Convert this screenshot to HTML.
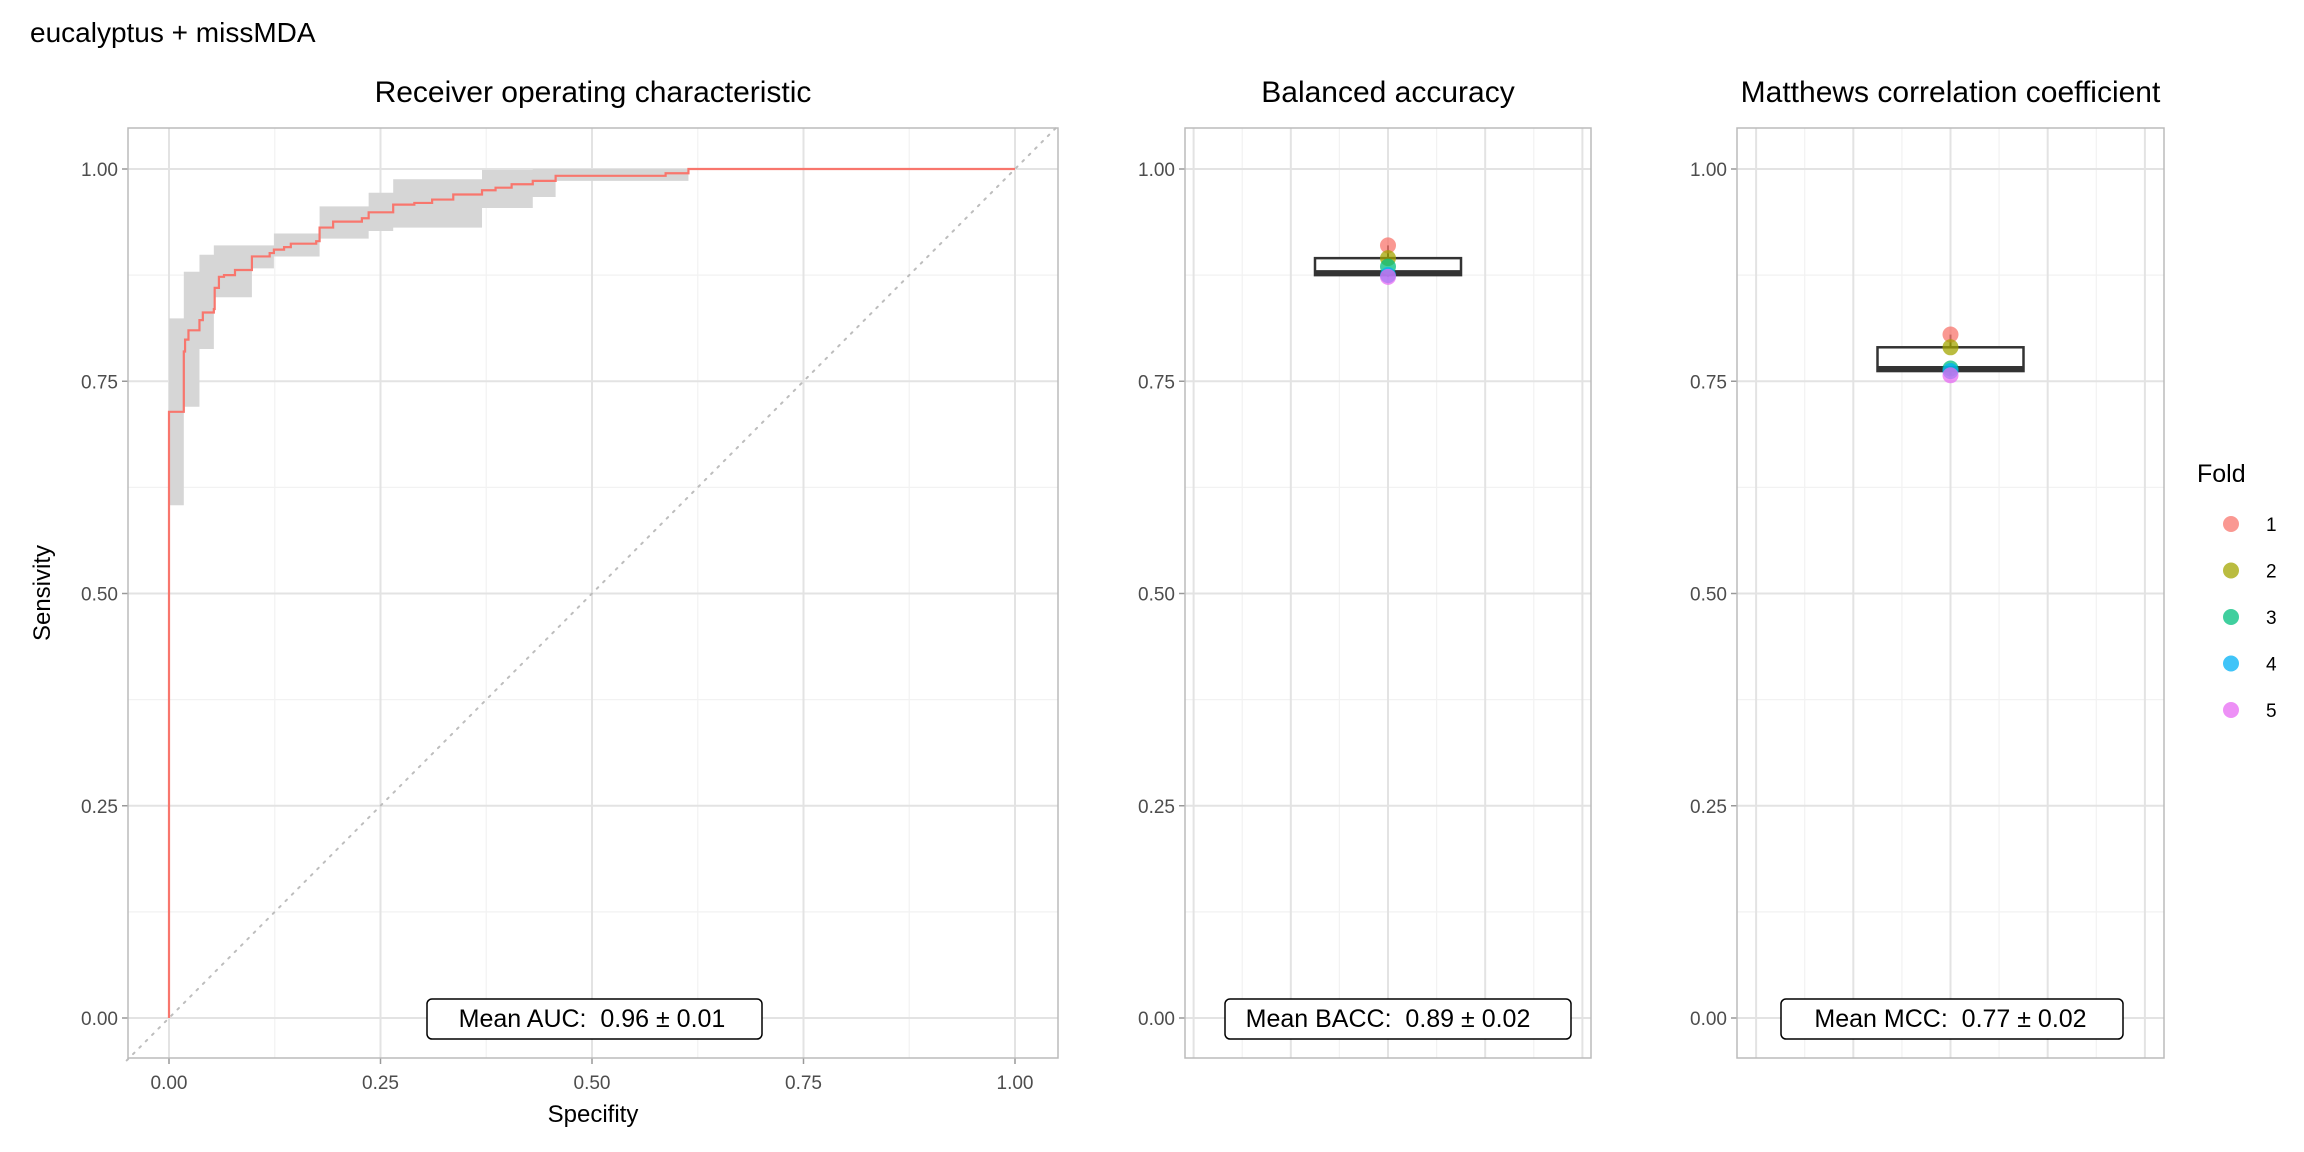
<!DOCTYPE html>
<html><head><meta charset="utf-8"><style>
html,body{margin:0;padding:0;background:#fff;}
svg{display:block;font-family:"Liberation Sans",sans-serif;}
text{white-space:pre;}
</style></head><body>
<svg id="c" width="2304" height="1152" viewBox="0 0 2304 1152" xmlns="http://www.w3.org/2000/svg">
<rect width="2304" height="1152" fill="#fff"/>
<text x="30" y="42" font-size="28" fill="#000">eucalyptus + missMDA</text>
</svg>
<script>
// ROC data
const rocX=[0,0,0.0175,0.019,0.023,0.036,0.040,0.053,0.054,0.059,0.065,0.078,0.098,0.119,0.124,0.136,0.144,0.174,0.178,0.194,0.228,0.236,0.265,0.29,0.311,0.336,0.37,0.386,0.405,0.43,0.457,0.587,0.614,1.0];
const rocY=[0,0.714,0.785,0.799,0.81,0.822,0.831,0.835,0.86,0.873,0.875,0.881,0.897,0.901,0.905,0.908,0.912,0.915,0.931,0.938,0.942,0.949,0.958,0.96,0.964,0.97,0.975,0.978,0.982,0.986,0.992,0.995,1.0,1.0];
const bandX=[0,0.0175,0.023,0.036,0.053,0.098,0.124,0.178,0.236,0.265,0.37,0.43,0.457,0.614];
const bandLo=[0.604,0.72,0.72,0.788,0.849,0.883,0.897,0.918,0.927,0.931,0.954,0.967,0.986,1.0];
const bandHi=[0.824,0.879,0.879,0.899,0.91,0.91,0.924,0.956,0.972,0.988,0.999,1.0,1.0,1.0];
const yTicks=[0,0.25,0.5,0.75,1.0];
const yTickLabels=["0.00","0.25","0.50","0.75","1.00"];
const xTicks=[0,0.25,0.5,0.75,1.0];
const foldLabels=["1","2","3","4","5"];
const foldColors=["#F8766D","#A3A500","#00BF7D","#00B0F6","#E76BF3"];
const baccVals=[0.91,0.895,0.885,0.875,0.873];
const baccBox=[0.873,0.875,0.878,0.895,0.91];
const mccVals=[0.805,0.79,0.765,0.762,0.757];
const mccBox=[0.757,0.762,0.765,0.79,0.805];

const svg=document.getElementById('c');
const NS='http://www.w3.org/2000/svg';
function mk(tag,at,parent){const e=document.createElementNS(NS,tag);for(const k in at)e.setAttribute(k,at[k]);(parent||svg).appendChild(e);return e;}
const pTop=128,pBot=1058;
const yS=v=>1018-v*849;

const L=128,R=1058;
const xS=v=>169+v*846;
const g1=mk('g',{});


for(let i=0;i<4;i++){const v=0.125+i*0.25;
 mk('line',{x1:L,x2:R,y1:yS(v),y2:yS(v),stroke:'#f2f2f2','stroke-width':1.2},g1);
 mk('line',{y1:pTop,y2:pBot,x1:xS(v),x2:xS(v),stroke:'#f2f2f2','stroke-width':1.2},g1);}
yTicks.forEach((v,i)=>{
 mk('line',{x1:L,x2:R,y1:yS(v),y2:yS(v),stroke:'#e3e3e3','stroke-width':2},g1);
 mk('line',{y1:pTop,y2:pBot,x1:xS(xTicks[i]),x2:xS(xTicks[i]),stroke:'#e3e3e3','stroke-width':2},g1);
 mk('line',{x1:L-6,x2:L,y1:yS(v),y2:yS(v),stroke:'#999','stroke-width':1.5},g1);
 mk('line',{y1:pBot,y2:pBot+6,x1:xS(xTicks[i]),x2:xS(xTicks[i]),stroke:'#999','stroke-width':1.5},g1);
 const t=mk('text',{x:L-10,y:yS(v)+7,'text-anchor':'end','font-size':19,fill:'#4d4d4d'},g1);t.textContent=yTickLabels[i];
 
 
 const tx=mk('text',{x:xS(xTicks[i]),y:pBot+31,'text-anchor':'middle','font-size':19,fill:'#4d4d4d'},g1);tx.textContent=yTickLabels[i];
 
 
});
let pu='',pl='';
for(let i=0;i<bandX.length;i++){const x0=xS(bandX[i]),x1=xS(i+1<bandX.length?bandX[i+1]:bandX[i]);
 pu+=(i?'L':'M')+x0+','+yS(bandHi[i])+'L'+x1+','+yS(bandHi[i]);}
for(let i=bandX.length-1;i>=0;i--){const x0=xS(bandX[i]),x1=xS(i+1<bandX.length?bandX[i+1]:bandX[i]);
 pl+='L'+x1+','+yS(bandLo[i])+'L'+x0+','+yS(bandLo[i]);}
const band=mk('path',{d:pu+pl+'Z',fill:'#d6d6d6'},g1);


const diag=mk('line',{x1:xS(-0.05),y1:yS(-0.05),x2:xS(1.05),y2:yS(1.05),stroke:'#bdbdbd','stroke-width':2,'stroke-dasharray':'2 7','stroke-linecap':'round'},g1);


let d='M'+xS(rocX[0])+','+yS(rocY[0]);
for(let i=1;i<rocX.length;i++){d+='L'+xS(rocX[i])+','+yS(rocY[i-1])+'L'+xS(rocX[i])+','+yS(rocY[i]);}
const curve=mk('path',{d:d,fill:'none',stroke:'#F8766D','stroke-width':2.2},g1);


mk('rect',{x:L,y:pTop,width:R-L,height:pBot-pTop,fill:'none',stroke:'#bbb','stroke-width':1.5},g1);
const tt=mk('text',{x:(L+R)/2,y:102,'text-anchor':'middle','font-size':30,fill:'#000'},g1);tt.textContent='Receiver operating characteristic';


const xt=mk('text',{x:(L+R)/2,y:1122,'text-anchor':'middle','font-size':24,fill:'#000'},g1);xt.textContent='Specifity';


const yt=mk('text',{x:0,y:0,'text-anchor':'middle','font-size':24,fill:'#000',transform:'translate(50,'+((pTop+pBot)/2)+') rotate(-90)'},g1);yt.textContent='Sensivity';



function label(cx,x0,x1,text,name,parent){
 mk('rect',{x:x0,y:999,width:x1-x0,height:40,rx:5,fill:'#fff',stroke:'#000','stroke-width':1.5},parent);
 const t=mk('text',{x:cx,y:1027,'text-anchor':'middle','font-size':25,fill:'#000'},parent);t.textContent=text;
 
 
}
label(xS(0.5),427,762,'Mean AUC:  0.96 ± 0.01','mean-auc-label',g1);

function boxPanel(L,R,title,vals,box,lbl,lx0,lx1,name){
 const g=mk('g',{});
 
 
 const cx=(L+R)/2;
 for(let i=0;i<4;i++){const v=0.125+i*0.25;mk('line',{x1:L,x2:R,y1:yS(v),y2:yS(v),stroke:'#f2f2f2','stroke-width':1.2},g);}
 [-145.8,-48.6,48.6,145.8].forEach(o=>mk('line',{x1:cx+o,x2:cx+o,y1:pTop,y2:pBot,stroke:'#f2f2f2','stroke-width':1.2},g));
 [-194.4,-97.2,0,97.2,194.4].forEach(o=>mk('line',{x1:cx+o,x2:cx+o,y1:pTop,y2:pBot,stroke:'#e3e3e3','stroke-width':2},g));
 yTicks.forEach((v,i)=>{
  mk('line',{x1:L,x2:R,y1:yS(v),y2:yS(v),stroke:'#e3e3e3','stroke-width':2},g);
  mk('line',{x1:L-6,x2:L,y1:yS(v),y2:yS(v),stroke:'#999','stroke-width':1.5},g);
  const t=mk('text',{x:L-10,y:yS(v)+7,'text-anchor':'end','font-size':19,fill:'#4d4d4d'},g);t.textContent=yTickLabels[i];
  
  
 });
 const bw=73;
 mk('line',{x1:cx,x2:cx,y1:yS(box[4]),y2:yS(box[3]),stroke:'#333','stroke-width':2},g);
 mk('line',{x1:cx,x2:cx,y1:yS(box[1]),y2:yS(box[0]),stroke:'#333','stroke-width':2},g);
 const b=mk('rect',{x:cx-bw,y:yS(box[3]),width:2*bw,height:yS(box[1])-yS(box[3]),fill:'#fff',stroke:'#333','stroke-width':2.5},g);
 
 
 mk('line',{x1:cx-bw,x2:cx+bw,y1:yS(box[2]),y2:yS(box[2]),stroke:'#333','stroke-width':5},g);
 vals.forEach((v,i)=>{
  const p=mk('circle',{cx:cx,cy:yS(v),r:8,fill:foldColors[i],'fill-opacity':0.75},g);
  
  
 });
 mk('rect',{x:L,y:pTop,width:R-L,height:pBot-pTop,fill:'none',stroke:'#bbb','stroke-width':1.5},g);
 const t=mk('text',{x:cx,y:102,'text-anchor':'middle','font-size':30,fill:'#000'},g);t.textContent=title;
 
 
 label(cx,lx0,lx1,lbl,'mean-label',g);
}
boxPanel(1185,1591,'Balanced accuracy',baccVals,baccBox,'Mean BACC:  0.89 ± 0.02',1225,1571,'bacc-panel');
boxPanel(1737,2164,'Matthews correlation coefficient',mccVals,mccBox,'Mean MCC:  0.77 ± 0.02',1781,2123,'mcc-panel');

const lg=mk('g',{});


const lt=mk('text',{x:2197,y:482,'font-size':25,fill:'#000'},lg);lt.textContent='Fold';


foldLabels.forEach((f,i)=>{
 const y=524+i*46.5;
 const c=mk('circle',{cx:2231,cy:y,r:8,fill:foldColors[i],'fill-opacity':0.75},lg);
 
 
 const t=mk('text',{x:2266,y:y+7,'font-size':19,fill:'#000'},lg);t.textContent=f;
 
 
});
</script>
</body></html>
